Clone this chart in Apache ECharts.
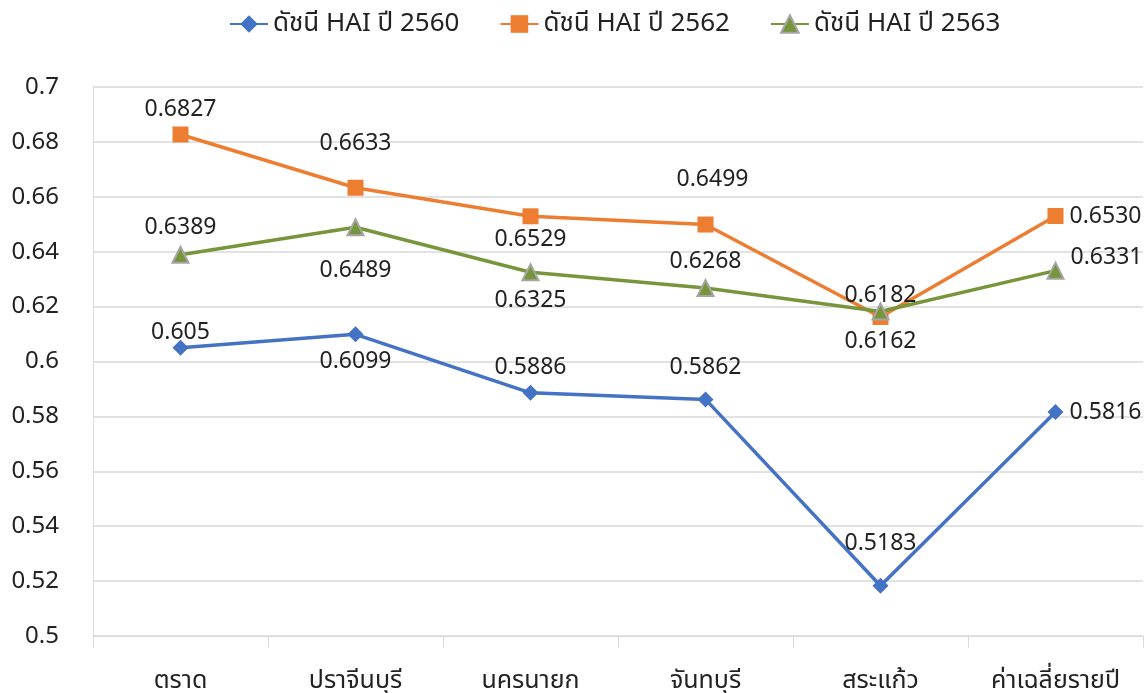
<!DOCTYPE html>
<html>
<head>
<meta charset="utf-8">
<script src="https://cdn.jsdelivr.net/npm/echarts@6/dist/echarts.min.js"></script>
<style>
  html, body { margin: 0; padding: 0; background: #fff; }
  #chart { width: 1145px; height: 693px; }
</style>
</head>
<body>
<div id="chart"></div>
<script>
// หมวดหมู่ (จังหวัด)
const categories = ['ตราด', 'ปราจีนบุรี', 'นครนายก', 'จันทบุรี', 'สระแก้ว', 'ค่าเฉลี่ยรายปี']
const seriesNames = ['ดัชนี HAI ปี 2560', 'ดัชนี HAI ปี 2562', 'ดัชนี HAI ปี 2563']
const hai2560 = [0.605, 0.6099, 0.5886, 0.5862, 0.5183, 0.5816]
const hai2562 = [0.6827, 0.6633, 0.6529, 0.6499, 0.6162, 0.6530]
const hai2563 = [0.6389, 0.6489, 0.6325, 0.6268, 0.6182, 0.6331]
const labelText2560 = ['0.605', '0.6099', '0.5886', '0.5862', '0.5183', '0.5816']
const labelText2562 = ['0.6827', '0.6633', '0.6529', '0.6499', '0.6162', '0.6530']
const labelText2563 = ['0.6389', '0.6489', '0.6325', '0.6268', '0.6182', '0.6331']

const font = '"Noto Sans", "Noto Sans Thai", Tahoma, sans-serif'

// ตำแหน่งป้ายข้อมูลแต่ละจุด [position, distance, offset]
const labelPos = [
    [['top', -4], ['bottom', 8], ['top', 6], ['top', 12], ['top', 23], ['right', 6]],
    [['top', 6], ['top', 25], ['bottom', 4], ['top', 26, [7, 0]], ['bottom', 5], ['right', 6]],
    [['top', 7], ['bottom', 23], ['bottom', 8], ['top', 6], ['top', -4], ['right', 6, [0, -13]]]
]

function buildData(values, texts, idx) {
    return values.map((v, i) => {
        const p = labelPos[idx][i]
        const label = { position: p[0], distance: p[1], formatter: texts[i] }
        if (p[2]) label.offset = p[2]
        return { value: v, label: label }
    })
}

function makeSeries(name, values, texts, idx, color, symbol, extra) {
    return Object.assign({
        name: name,
        type: 'line',
        data: buildData(values, texts, idx),
        symbol: symbol,
        symbolSize: 16,
        lineStyle: { width: 3.5, color: color },
        itemStyle: { color: color },
        label: {
            show: true,
            fontSize: 23,
            color: '#222',
            fontFamily: font
        },
        z: 2
    }, extra || {})
}

const myChart = echarts.init(document.getElementById('chart'))
const option = {
    animation: false,
    backgroundColor: '#fff',
    color: ['#4472C4', '#ED7D31', '#77963C'],
    legend: {
        top: 6,
        left: 224,
        itemWidth: 38,
        itemHeight: 22,
        itemGap: 40,
        textStyle: { fontSize: 26, color: '#222', fontFamily: font },
        data: seriesNames
    },
    grid: {
        left: 93,
        right: 2,
        top: 87,
        bottom: 57
    },
    xAxis: {
        type: 'category',
        data: categories,
        boundaryGap: true,
        axisLine: { lineStyle: { color: '#D9D9D9', width: 1 } },
        axisTick: { show: true, length: 12, lineStyle: { color: '#D9D9D9' } },
        axisLabel: { margin: 32, fontSize: 25, color: '#222', fontFamily: font, interval: 0 },
        splitLine: { show: false }
    },
    yAxis: {
        type: 'value',
        min: 0.5,
        max: 0.7,
        interval: 0.02,
        axisLine: { show: true, lineStyle: { color: '#D9D9D9' } },
        axisTick: { show: false },
        axisLabel: {
            margin: 34,
            fontSize: 24,
            color: '#222',
            fontFamily: font,
            formatter: v => String(+v.toFixed(2))
        },
        splitLine: { lineStyle: { color: '#D9D9D9', width: 1.5 } }
    },
    series: [
        makeSeries(seriesNames[0], hai2560, labelText2560, 0, '#4472C4', 'diamond'),
        makeSeries(seriesNames[1], hai2562, labelText2562, 1, '#ED7D31', 'rect'),
        makeSeries(seriesNames[2], hai2563, labelText2563, 2, '#77963C', 'triangle', {
            itemStyle: { color: '#77963C', borderColor: '#A5A5A5', borderWidth: 2 },
            z: 3
        })
    ]
}
myChart.setOption(option)
window.addEventListener('resize', () => { myChart.resize() })
</script>
</body>
</html>
